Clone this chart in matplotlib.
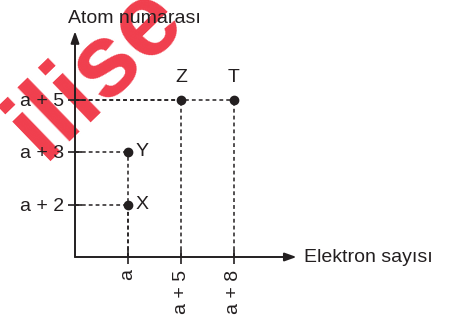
import matplotlib
matplotlib.use("Agg")
from matplotlib import pyplot as plt

plt.rcParams["font.family"] = ["Liberation Sans", "DejaVu Sans"]

# points: electron count offset and atomic number offset (relative to a)
names = ["X", "Y", "Z", "T"]
electrons = [0, 0, 5, 8]
atoms = [2, 3, 5, 5]

x_ticks = [0, 5, 8]
x_labels = ["a", "a + 5", "a + 8"]
y_ticks = [2, 3, 5]
y_labels = ["a + 2", "a + 3", "a + 5"]

# axis is drawn schematically: equal spacing between tick values
xpos = {v: i + 1 for i, v in enumerate(x_ticks)}
ypos = {v: i + 1 for i, v in enumerate(y_ticks)}

ink = "#231f20"

fig = plt.figure(figsize=(4.53, 3.21), dpi=100)
ax = fig.add_axes([0, 0, 1, 1])
ax.set_xlim(-75 / 53, (453 - 75) / 53)
ax.set_ylim(-(321 - 257) / 52.5, 257 / 52.5)
ax.patch.set_visible(False)
ax.spines["left"].set_position(("data", 0))
ax.spines["bottom"].set_position(("data", 0))
for s in ax.spines.values():
    s.set_visible(False)

# watermark, behind everything
fig.text(97 / 453, 1 - 72 / 321, "ilise", color="#ee1c2e",
         fontsize=74, fontweight="bold", rotation=44, ha="center", va="center",
         alpha=0.85, zorder=-1)

# axes with arrows
ax.annotate("", xy=(0, 4.3), xytext=(0, 0),
            arrowprops=dict(arrowstyle="-|>,head_length=0.7,head_width=0.25", color=ink, lw=1.4, shrinkA=0, shrinkB=0))
ax.annotate("", xy=(4.18, 0), xytext=(0, 0),
            arrowprops=dict(arrowstyle="-|>,head_length=0.7,head_width=0.25", color=ink, lw=1.4, shrinkA=0, shrinkB=0))

ax.text(-0.13, 4.46, "Atom numarası", fontsize=14, ha="left", va="baseline", color=ink)
ax.text(4.33, 0, "Elektron sayısı", fontsize=14, ha="left", va="center", color=ink)

ax.set_xticks([xpos[v] for v in x_ticks])
ax.set_xticklabels(x_labels, rotation=90, fontsize=14, color=ink, va="top", ha="center")
ax.set_yticks([ypos[v] for v in y_ticks])
ax.set_yticklabels(y_labels, fontsize=14, color=ink)
ax.tick_params(axis="both", direction="inout", length=10, width=1.2, color=ink)
ax.tick_params(axis="y", pad=3)
ax.tick_params(axis="x", pad=4)

dash = (0, (2.5, 2))
for n, e, a in zip(names, electrons, atoms):
    x, y = xpos[e], ypos[a]
    ax.plot([0, x], [y, y], color=ink, lw=1.1, linestyle=dash)
    ax.plot([x, x], [0, y], color=ink, lw=1.1, linestyle=dash)
    ax.plot(x, y, "o", color=ink, markersize=6)
    if n in ("Z", "T"):
        ax.text(x, y + 0.42, n, fontsize=14, ha="center", va="center", color=ink)
    else:
        ax.text(x + 0.14, y, n, fontsize=14, ha="left", va="center", color=ink)

fig.savefig("out.png", dpi=100)
